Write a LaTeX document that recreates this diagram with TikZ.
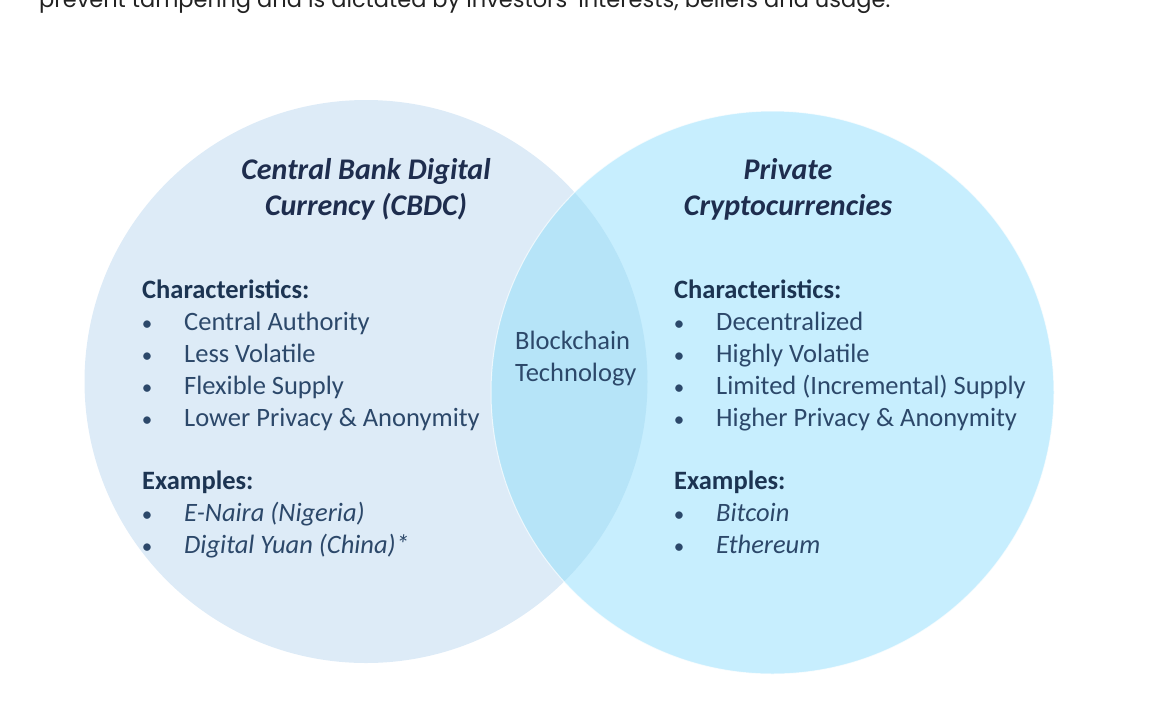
\documentclass[tikz,border=0pt]{standalone}
\usepackage{fontspec}
\setmainfont{Carlito}
\newfontfamily\topfont{Poppins}
\definecolor{cbdcfill}{RGB}{221,235,247}
\definecolor{cryptofill}{RGB}{199,238,254}
\definecolor{lensfill}{RGB}{182,228,248}
\definecolor{vtitle}{RGB}{30,45,78}
\definecolor{vhead}{RGB}{28,52,82}
\definecolor{vitem}{RGB}{44,72,106}
\definecolor{toptext}{RGB}{34,34,34}

\begin{document}
\begin{tikzpicture}[x=1pt, y=-1pt,
  title/.style={font=\bfseries\itshape\fontsize{30}{36}\selectfont, text=vtitle, inner sep=0pt, anchor=base},
  head/.style={font=\bfseries\fontsize{26.5}{32}\selectfont, text=vhead, inner sep=0pt, anchor=base west},
  item/.style={font=\fontsize{26.5}{32}\selectfont, text=vitem, inner sep=0pt, anchor=base west},
  exitem/.style={item, font=\itshape\fontsize{26.5}{32}\selectfont},
  bul/.style={item, font=\fontsize{21}{32}\selectfont, anchor=base}]
\useasboundingbox (0,0) rectangle (1168,721);
\clip (0,0) rectangle (1168,721);

% Cut-off sentence above the figure
\node[font=\topfont\fontsize{22.5}{26}\selectfont, text=toptext, inner sep=0pt, anchor=base west] (topline) at (39,7)
  {prevent tampering and is dictated by investors’ interests, beliefs and usage.};

% Venn circles
\coordinate (cbdc) at (366,381.5);
\coordinate (crypto) at (772.5,392.5);
\fill[cbdcfill] (cbdc) circle[radius=281.5pt];
\fill[cryptofill] (crypto) circle[radius=281.5pt];
\begin{scope}
  \clip (cbdc) circle[radius=281.5pt];
  \fill[lensfill] (crypto) circle[radius=281.5pt];
\end{scope}
\draw[white, opacity=0.7, line width=1pt] (crypto) circle[radius=281.5pt];

% Titles
\node[title] (cbdct1) at (366,179) {Central Bank Digital};
\node[title] (cbdct2) at (366,215) {Currency (CBDC)};
\node[title] (cryptot1) at (788,179) {Private};
\node[title] (cryptot2) at (788,215) {Cryptocurrencies};

% Overlap label
\node[item] (chain1) at (515,349) {Blockchain};
\node[item] (chain2) at (515,381) {Technology};

% CBDC column
\node[head] (cbdch) at (142,298) {Characteristics:};
\foreach \txt [count=\i from 0] in {Central Authority, Less Volatile, Flexible Supply, Lower Privacy \& Anonymity} {
  \node[bul] (cbdcb\i) at (147,{330+32*\i}) {\textbullet};
  \node[item] (cbdci\i) at (184,{330+32*\i}) {\txt};
}
\node[head] (cbdce) at (142,489) {Examples:};
\foreach \txt [count=\i from 0] in {E-Naira (Nigeria), Digital Yuan (China)*} {
  \node[bul] (cbdceb\i) at (147,{521+32*\i}) {\textbullet};
  \node[exitem] (cbdcei\i) at (184,{521+32*\i}) {\txt};
}

% Crypto column
\node[head] (cryptoh) at (674,298) {Characteristics:};
\foreach \txt [count=\i from 0] in {Decentralized, Highly Volatile, Limited (Incremental) Supply, Higher Privacy \& Anonymity} {
  \node[bul] (cryptob\i) at (679,{330+32*\i}) {\textbullet};
  \node[item] (cryptoi\i) at (716,{330+32*\i}) {\txt};
}
\node[head] (cryptoe) at (674,489) {Examples:};
\foreach \txt [count=\i from 0] in {Bitcoin, Ethereum} {
  \node[bul] (cryptoeb\i) at (679,{521+32*\i}) {\textbullet};
  \node[exitem] (cryptoei\i) at (716,{521+32*\i}) {\txt};
}
\end{tikzpicture}
\end{document}
